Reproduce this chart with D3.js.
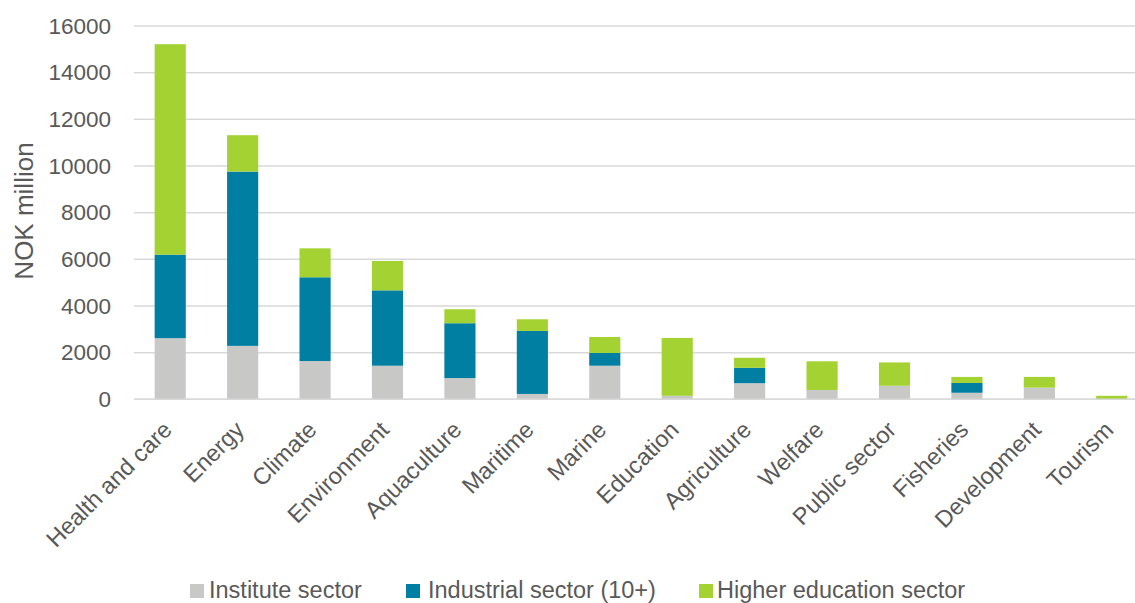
<!DOCTYPE html>
<html>
<head>
<meta charset="utf-8">
<script src="https://cdn.jsdelivr.net/npm/d3@7"></script>
<style>
  html, body { margin: 0; padding: 0; background: #fff; }
  svg { display: block; font-family: "Liberation Sans", Arial, sans-serif; }
</style>
</head>
<body>
<svg id="chart" width="1135" height="603"></svg>
<script>
// R&D expenditure by thematic area and performing sector (NOK million)
const categories = ["Health and care", "Energy", "Climate", "Environment", "Aquaculture", "Maritime",
  "Marine", "Education", "Agriculture", "Welfare", "Public sector", "Fisheries", "Development", "Tourism"];
const instituteSector = [2620, 2290, 1640, 1440, 910, 230, 1440, 150, 690, 400, 580, 280, 500, 0];
const industrialSector = [3580, 7470, 3590, 3230, 2350, 2700, 545, 0, 660, 0, 0, 420, 0, 0];
const higherEducationSector = [9020, 1560, 1240, 1260, 600, 500, 685, 2480, 430, 1230, 1000, 260, 460, 150];
const seriesNames = ["Institute sector", "Industrial sector (10+)", "Higher education sector"];
const seriesColors = ["#c8c9c7", "#007fa3", "#a5d233"];
const yTicks = [0, 2000, 4000, 6000, 8000, 10000, 12000, 14000, 16000];

const svg = d3.select("#chart");
const frame = { left: 134, right: 1148, top: 26, bottom: 399.3 };

const rows = categories.map((c, i) => ({
  category: c,
  s0: instituteSector[i],
  s1: industrialSector[i],
  s2: higherEducationSector[i]
}));
const stacked = d3.stack().keys(["s0", "s1", "s2"])(rows);

const x = d3.scaleBand().domain(categories).range([frame.left, frame.right]).paddingInner(0.57).paddingOuter(0.285);
const y = d3.scaleLinear().domain([0, 16000]).range([frame.bottom, frame.top]);

// gridlines
svg.append("g")
  .selectAll("line")
  .data(yTicks)
  .join("line")
  .attr("x1", frame.left)
  .attr("x2", frame.right)
  .attr("y1", d => y(d))
  .attr("y2", d => y(d))
  .attr("stroke", "#d9d9d9")
  .attr("stroke-width", 1.5);

// y axis labels
const yAxis = svg.append("g")
  .attr("transform", `translate(${frame.left - 23},0)`)
  .call(d3.axisLeft(y).tickValues(yTicks).tickSize(0).tickPadding(0).tickFormat(d3.format("d")));
yAxis.select(".domain").remove();
yAxis.selectAll("text")
  .attr("fill", "#595959")
  .style("font-size", "22.5px")
  .style("font-family", "'Liberation Sans', Arial, sans-serif");

// y title
svg.append("text")
  .attr("transform", "translate(33,211) rotate(-90)")
  .attr("text-anchor", "middle")
  .attr("fill", "#595959")
  .style("font-size", "26px")
  .text("NOK million");

// stacked bars
svg.append("g")
  .selectAll("g")
  .data(stacked)
  .join("g")
  .attr("fill", (d, i) => seriesColors[i])
  .selectAll("rect")
  .data(d => d)
  .join("rect")
  .attr("x", d => x(d.data.category))
  .attr("width", x.bandwidth())
  .attr("y", d => y(d[1]))
  .attr("height", d => Math.max(0, y(d[0]) - y(d[1])));

// x axis baseline
svg.append("line")
  .attr("x1", frame.left)
  .attr("x2", frame.right)
  .attr("y1", y(0))
  .attr("y2", y(0))
  .attr("stroke", "#d9d9d9")
  .attr("stroke-width", 1.5);

// category labels, rotated
const xAxis = svg.append("g")
  .attr("transform", `translate(0,${y(0)})`)
  .call(d3.axisBottom(x).tickSize(0).tickPadding(0));
xAxis.select(".domain").remove();
xAxis.selectAll("text")
  .attr("fill", "#595959")
  .style("font-size", "23.5px")
  .style("font-family", "'Liberation Sans', Arial, sans-serif")
  .attr("text-anchor", "end")
  .attr("dy", null)
  .attr("y", 0)
  .attr("transform", "translate(3,32) rotate(-45)");

// legend
const legendSquareX = [190, 406, 699];
const legend = svg.append("g")
  .selectAll("g")
  .data(seriesNames)
  .join("g")
  .attr("transform", (d, i) => `translate(${legendSquareX[i]},598)`);
legend.append("rect")
  .attr("x", 0).attr("y", -14)
  .attr("width", 14).attr("height", 14)
  .attr("fill", (d, i) => seriesColors[i]);
legend.append("text")
  .attr("x", (d, i) => [19, 22, 18][i])
  .attr("y", 0)
  .attr("fill", "#595959")
  .style("font-size", "23.5px")
  .text(d => d);
</script>
</body>
</html>
